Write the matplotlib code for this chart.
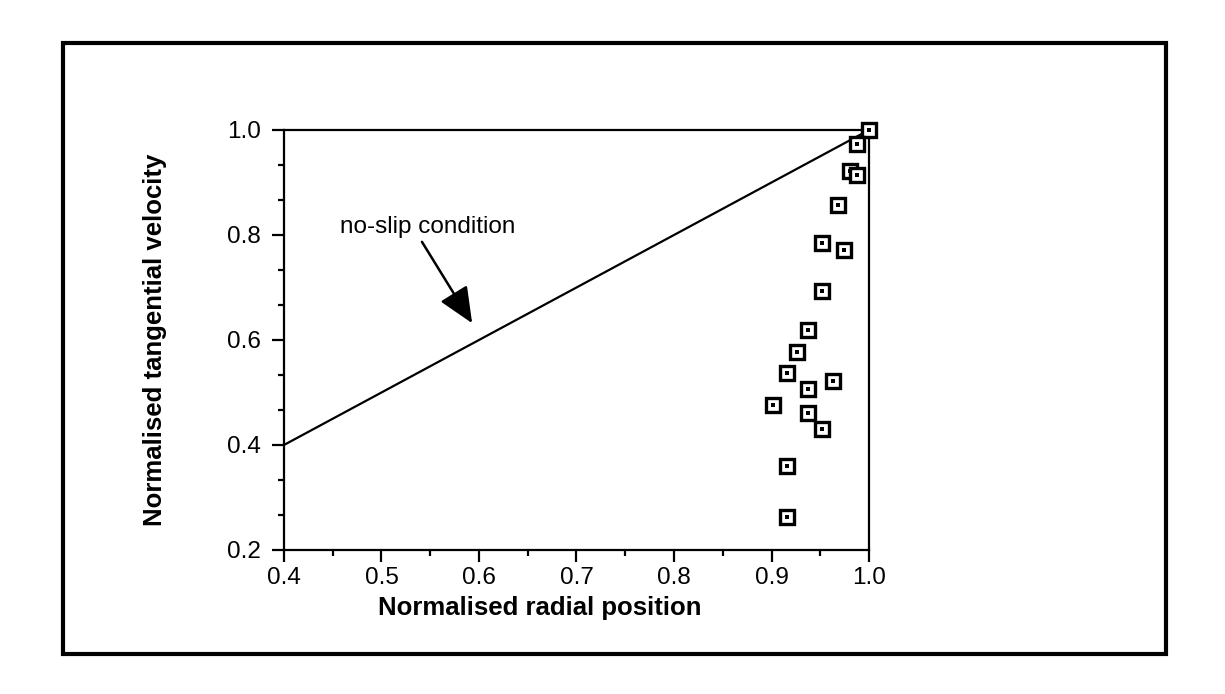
import numpy as np
import matplotlib.pyplot as plt
from matplotlib.patches import Rectangle
from matplotlib.ticker import MultipleLocator

plt.rcParams['font.family'] = ['Liberation Sans', 'DejaVu Sans']

# measured points (radial position, tangential velocity)
r_pos = [1.000, 0.988, 0.980, 0.988, 0.968, 0.952, 0.974, 0.952, 0.937,
         0.926, 0.916, 0.963, 0.937, 0.902, 0.937, 0.952, 0.916, 0.916]
v_tan = [1.000, 0.973, 0.922, 0.914, 0.857, 0.785, 0.771, 0.694, 0.619,
         0.577, 0.537, 0.522, 0.507, 0.476, 0.461, 0.430, 0.360, 0.263]

# no-slip line
line_x = [0.4, 1.0]
line_y = [0.4, 1.0]

fig = plt.figure(figsize=(12.25, 6.94), dpi=100)
ax = fig.add_axes([0.2318, 0.2075, 0.4776, 0.6052])

ax.plot(line_x, line_y, color='black', lw=1.6, zorder=2)
ax.plot(r_pos, v_tan, ls='none', marker='s', ms=9.5, mfc='white', mec='black',
        mew=2.4, zorder=3, clip_on=False)
ax.plot(r_pos, v_tan, ls='none', marker='s', ms=2.4, mfc='black', mec='black',
        mew=0, zorder=4, clip_on=False)

# label and arrow
ax.text(0.457, 0.815, 'no-slip condition', fontsize=17.5, va='center', ha='left')
ax.annotate('', xy=(0.593, 0.632), xytext=(0.5415, 0.787),
            arrowprops=dict(arrowstyle='-|>,head_length=1.7,head_width=0.75',
                            mutation_scale=13, color='black', lw=1.8,
                            shrinkA=0, shrinkB=0))

ax.set_xlim(0.4, 1.0)
ax.set_ylim(0.2, 1.0)
ax.xaxis.set_major_locator(MultipleLocator(0.1))
ax.xaxis.set_minor_locator(MultipleLocator(0.05))
ax.yaxis.set_major_locator(MultipleLocator(0.2))
ax.yaxis.set_minor_locator(MultipleLocator(0.2 / 3))
ax.xaxis.set_major_formatter(plt.FormatStrFormatter('%.1f'))
ax.yaxis.set_major_formatter(plt.FormatStrFormatter('%.1f'))

ax.tick_params(which='both', direction='out', width=1.6, labelsize=17.5,
               top=False, right=False, color='black')
ax.tick_params(which='major', length=8.5, pad=4)
ax.tick_params(axis='y', which='major', pad=8)
ax.tick_params(which='minor', length=4.5)
for s in ax.spines.values():
    s.set_linewidth(1.6)

ax.set_xlabel('Normalised radial position', fontsize=18.5, fontweight='bold')
ax.set_ylabel('Normalised tangential velocity', fontsize=18.5, fontweight='bold')
ax.xaxis.set_label_coords(0.4376, -0.11)
ax.yaxis.set_label_coords(-0.2, 0.5)

fig.patches.append(Rectangle((0.0514, 0.0576), 0.9004, 0.8804,
                             transform=fig.transFigure, fill=False,
                             lw=3, edgecolor='black'))

fig.savefig('out.png', dpi=100)
